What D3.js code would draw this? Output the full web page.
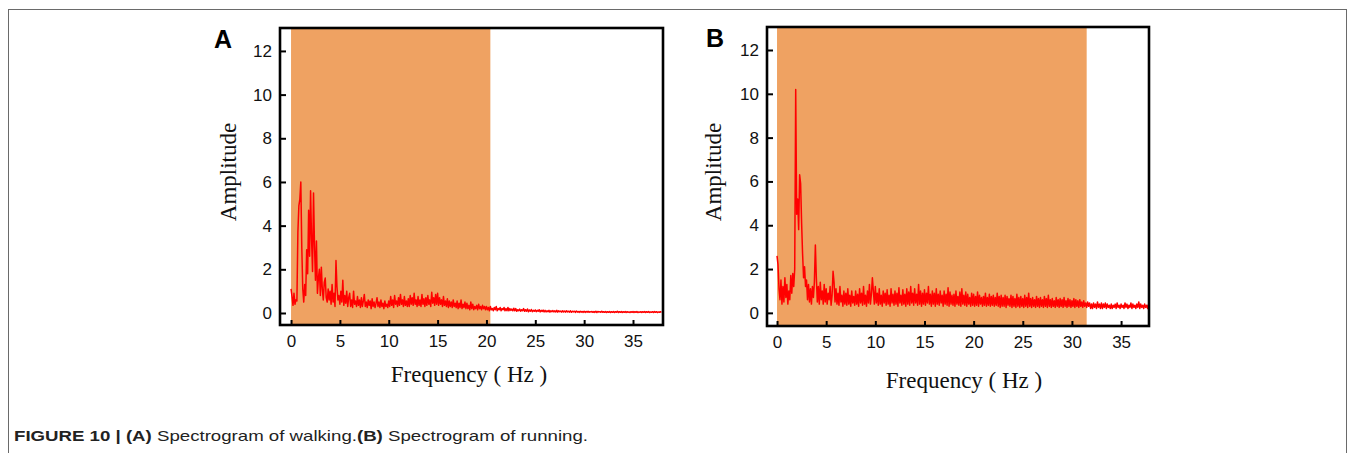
<!DOCTYPE html>
<html>
<head>
<meta charset="utf-8">
<script src="https://cdn.jsdelivr.net/npm/d3@7/dist/d3.min.js"></script>
<style>
  html, body { margin: 0; padding: 0; background: #fff; }
  svg { display: block; }
</style>
</head>
<body>
<svg id="chart" width="1355" height="453"></svg>
<script>
// ---------- data ----------
const freqStep = 0.1; // Hz between samples
const xTicks = [0, 5, 10, 15, 20, 25, 30, 35];
const yTicks = [0, 2, 4, 6, 8, 10, 12];
const panelLetters = ["A", "B"];
const xTitle = "Frequency ( Hz )";
const yTitle = "Amplitude";
const bandA = [0, 20.4];   // highlighted frequency band, walking
const bandB = [0, 31.5];   // highlighted frequency band, running

// Walking spectrum amplitudes (0.0 .. 37.9 Hz, 0.1 Hz steps)
const walking = [
 1.10,0.75,0.35,0.90,0.40,0.60,0.55,3.70,4.90,5.20,
 6.00,3.00,1.10,0.50,1.30,0.80,2.90,1.80,4.70,2.60,
 5.60,3.40,1.90,5.50,3.10,1.50,3.30,0.90,1.60,2.00,
 0.80,2.10,1.10,0.60,1.40,1.60,0.70,0.50,1.10,0.60,
 1.00,0.40,1.30,0.50,0.90,0.30,2.40,1.20,0.60,0.80,
 0.40,1.00,0.50,1.50,0.35,0.80,0.45,1.00,0.30,0.70,
 0.90,0.30,0.60,0.25,1.00,0.40,0.55,0.30,0.75,0.35,
 0.60,0.25,0.70,0.30,0.55,0.85,0.30,0.50,0.25,0.60,
 0.35,0.55,0.20,0.65,0.30,0.50,0.25,0.45,0.70,0.30,
 0.50,0.25,0.60,0.30,0.45,0.20,0.55,0.30,0.40,0.25,
 0.55,0.30,0.75,0.35,0.60,0.25,0.80,0.40,0.55,0.30,
 0.70,0.35,0.85,0.40,0.60,0.30,0.75,0.35,0.55,0.30,
 0.65,0.30,0.80,0.40,0.70,0.35,0.90,0.40,0.60,0.30,
 0.75,0.35,0.60,0.30,0.85,0.40,0.65,0.30,0.70,0.35,
 0.80,0.40,0.60,0.30,0.95,0.45,0.70,0.35,0.85,0.40,
 0.90,0.35,0.70,0.40,0.60,0.30,0.75,0.35,0.55,0.30,
 0.65,0.25,0.55,0.30,0.50,0.25,0.60,0.30,0.45,0.25,
 0.55,0.20,0.45,0.25,0.60,0.20,0.40,0.25,0.50,0.20,
 0.45,0.20,0.35,0.15,0.50,0.20,0.40,0.15,0.30,0.20,
 0.35,0.15,0.40,0.20,0.30,0.15,0.35,0.20,0.30,0.15,
 0.30,0.15,0.25,0.10,0.30,0.15,0.20,0.10,0.25,0.15,
 0.30,0.10,0.20,0.15,0.25,0.10,0.20,0.15,0.25,0.10,
 0.20,0.10,0.25,0.10,0.20,0.12,0.18,0.10,0.22,0.10,
 0.20,0.08,0.15,0.10,0.18,0.08,0.15,0.10,0.20,0.08,
 0.15,0.08,0.18,0.06,0.14,0.08,0.16,0.06,0.12,0.08,
 0.14,0.06,0.12,0.08,0.15,0.05,0.12,0.07,0.13,0.05,
 0.12,0.05,0.10,0.06,0.12,0.04,0.10,0.06,0.11,0.05,
 0.10,0.05,0.12,0.04,0.10,0.06,0.09,0.04,0.10,0.05,
 0.09,0.04,0.10,0.05,0.08,0.04,0.10,0.03,0.08,0.05,
 0.08,0.03,0.09,0.04,0.07,0.03,0.08,0.04,0.07,0.03,
 0.08,0.03,0.07,0.04,0.08,0.03,0.06,0.04,0.07,0.03,
 0.07,0.03,0.08,0.02,0.07,0.04,0.06,0.03,0.08,0.03,
 0.06,0.03,0.07,0.02,0.06,0.03,0.07,0.02,0.06,0.03,
 0.07,0.02,0.06,0.03,0.08,0.02,0.06,0.03,0.07,0.02,
 0.06,0.03,0.07,0.02,0.06,0.03,0.05,0.02,0.06,0.03,
 0.07,0.02,0.06,0.03,0.07,0.02,0.05,0.03,0.06,0.02,
 0.06,0.03,0.07,0.02,0.06,0.03,0.07,0.02,0.05,0.03,
 0.06,0.02,0.07,0.03,0.06,0.02,0.05,0.03,0.06,0.02
];

// Running spectrum amplitudes (0.0 .. 37.9 Hz, 0.1 Hz steps)
const running = [
 2.60,2.20,1.10,0.60,1.50,0.40,1.20,0.50,1.60,0.70,
 1.30,0.40,1.00,0.60,1.70,0.90,1.80,1.20,2.00,10.20,
 4.50,5.20,3.80,6.30,5.90,4.10,2.70,1.60,2.10,1.20,
 1.50,0.60,1.30,0.50,1.10,0.40,1.20,0.70,1.40,3.10,
 1.60,0.50,1.20,0.40,1.40,0.60,1.00,0.40,1.30,0.50,
 1.10,0.40,0.90,0.60,1.20,0.35,0.80,1.90,1.40,0.50,
 1.10,0.40,0.90,0.35,1.20,0.50,0.80,0.30,1.00,0.40,
 0.90,0.35,1.10,0.40,0.80,0.30,1.00,0.45,0.75,0.35,
 1.00,0.40,0.85,0.30,1.10,0.45,0.90,0.35,1.20,0.40,
 0.80,0.30,1.00,0.45,1.30,0.40,0.85,1.60,1.00,0.40,
 1.20,0.45,0.90,0.35,1.10,0.40,0.80,0.30,1.00,0.45,
 0.90,0.35,1.05,0.40,0.80,0.30,1.10,0.45,0.85,0.35,
 1.00,0.40,0.90,0.30,1.15,0.45,0.80,0.35,1.05,0.40,
 0.85,0.30,1.10,0.40,0.95,0.35,1.20,0.45,0.90,0.35,
 1.10,0.45,0.85,0.35,1.30,0.40,1.00,0.30,0.90,0.40,
 1.05,0.35,0.90,0.45,1.20,0.40,0.85,0.30,1.00,0.40,
 0.90,0.30,1.10,0.40,0.85,0.35,1.00,0.45,0.80,0.30,
 1.00,0.40,0.85,0.35,1.15,0.30,0.95,0.40,0.80,0.35,
 0.85,0.30,1.00,0.40,0.75,0.35,0.95,0.30,1.10,0.40,
 0.80,0.35,0.95,0.30,0.85,0.40,0.70,0.30,0.90,0.35,
 0.85,0.30,0.75,0.35,0.95,0.30,0.80,0.40,0.70,0.30,
 0.75,0.35,0.90,0.30,0.70,0.35,0.85,0.30,0.75,0.35,
 0.80,0.30,0.70,0.35,0.90,0.30,0.75,0.25,0.80,0.30,
 0.70,0.30,0.80,0.25,0.75,0.35,0.65,0.30,0.80,0.25,
 0.75,0.30,0.65,0.25,0.85,0.30,0.70,0.25,0.75,0.30,
 0.65,0.25,0.80,0.30,0.70,0.25,0.90,0.30,0.65,0.25,
 0.70,0.30,0.60,0.25,0.75,0.30,0.65,0.25,0.70,0.30,
 0.60,0.25,0.75,0.30,0.65,0.25,0.80,0.30,0.60,0.25,
 0.65,0.30,0.55,0.25,0.70,0.30,0.60,0.25,0.65,0.30,
 0.60,0.25,0.70,0.30,0.55,0.25,0.65,0.30,0.60,0.25,
 0.55,0.30,0.65,0.25,0.60,0.30,0.55,0.25,0.60,0.30,
 0.50,0.25,0.55,0.30,0.45,0.25,0.50,0.30,0.45,0.20,
 0.40,0.20,0.45,0.25,0.40,0.20,0.50,0.25,0.40,0.20,
 0.45,0.20,0.40,0.25,0.45,0.20,0.40,0.25,0.35,0.20,
 0.40,0.20,0.35,0.25,0.40,0.20,0.45,0.25,0.35,0.20,
 0.40,0.25,0.35,0.20,0.45,0.25,0.40,0.20,0.35,0.25,
 0.45,0.20,0.40,0.25,0.35,0.20,0.40,0.25,0.50,0.20,
 0.40,0.25,0.35,0.20,0.40,0.25,0.35,0.20,0.40,0.25
];

// ---------- layout ----------
const svg = d3.select("#chart");
const ORANGE = "#EFA262";
const RED = "#FF0000";

// outer figure frame
svg.append("rect")
  .attr("x", 8.5).attr("y", 9.5)
  .attr("width", 1338).attr("height", 470)
  .attr("fill", "none").attr("stroke", "#6a6a6a").attr("stroke-width", 1);

const panels = [
  { id: "A", values: walking, band: bandA, box: { x0: 280, x1: 663, y0: 28, y1: 325 },
    xDomain: [-1.13, 38.07], yDomain: [-0.55, 13.05],
    letter: { x: 214, y: 48 }, yTitle: { x: 236, y: 172 }, xTitle: { x: 469, y: 382 } },
  { id: "B", values: running, band: bandB, box: { x0: 767, x1: 1149, y0: 27, y1: 326 },
    xDomain: [-1.02, 37.84], yDomain: [-0.6, 13.05],
    letter: { x: 706, y: 47 }, yTitle: { x: 721, y: 172 }, xTitle: { x: 964, y: 388 } }
];

panels.forEach((p, pi) => {
  const b = p.box;
  const x = d3.scaleLinear().domain(p.xDomain).range([b.x0, b.x1]);
  const y = d3.scaleLinear().domain(p.yDomain).range([b.y1, b.y0]);
  const g = svg.append("g");

  const clipId = "clip" + p.id;
  svg.append("clipPath").attr("id", clipId)
    .append("rect").attr("x", b.x0).attr("y", b.y0)
    .attr("width", b.x1 - b.x0).attr("height", b.y1 - b.y0);

  // highlighted band
  g.append("rect")
    .attr("x", x(p.band[0])).attr("y", b.y0)
    .attr("width", x(p.band[1]) - x(p.band[0]))
    .attr("height", b.y1 - b.y0)
    .attr("fill", ORANGE);

  // spectrum line
  const freqs = p.values.map((_, i) => +(i * freqStep).toFixed(2));
  const line = d3.line()
    .x((d, i) => x(freqs[i]))
    .y(d => y(d));
  g.append("path")
    .datum(p.values)
    .attr("clip-path", `url(#${clipId})`)
    .attr("d", line)
    .attr("fill", "none")
    .attr("stroke", RED)
    .attr("stroke-width", 1.5)
    .attr("stroke-linejoin", "round");

  // axes (ticks inward)
  const xAxis = d3.axisBottom(x).tickValues(xTicks).tickSize(-5).tickPadding(10).tickFormat(d3.format("d"));
  const yAxis = d3.axisLeft(y).tickValues(yTicks).tickSize(-6).tickPadding(8).tickFormat(d3.format("d"));

  const gx = g.append("g").attr("transform", `translate(0,${b.y1})`).call(xAxis);
  const gy = g.append("g").attr("transform", `translate(${b.x0},0)`).call(yAxis);
  [gx, gy].forEach(ax => {
    ax.select(".domain").remove();
    ax.selectAll(".tick line").attr("stroke", "#000").attr("stroke-width", 2);
    ax.selectAll(".tick text")
      .attr("fill", "#111")
      .style("font-family", "'Liberation Sans', Arial, sans-serif")
      .style("font-size", "17px");
  });

  // box
  g.append("rect")
    .attr("x", b.x0).attr("y", b.y0)
    .attr("width", b.x1 - b.x0).attr("height", b.y1 - b.y0)
    .attr("fill", "none").attr("stroke", "#000").attr("stroke-width", 2.6);

  // panel letter
  g.append("text")
    .attr("x", p.letter.x).attr("y", p.letter.y)
    .text(panelLetters[pi])
    .style("font-family", "'Liberation Sans', Arial, sans-serif")
    .style("font-weight", "bold")
    .style("font-size", "25px")
    .attr("fill", "#000");

  // axis titles
  g.append("text")
    .attr("transform", `translate(${p.yTitle.x},${p.yTitle.y}) rotate(-90)`)
    .attr("text-anchor", "middle")
    .text(yTitle)
    .style("font-family", "'Liberation Serif', 'Times New Roman', serif")
    .style("font-size", "23px")
    .attr("fill", "#111");

  g.append("text")
    .attr("x", p.xTitle.x).attr("y", p.xTitle.y)
    .attr("text-anchor", "middle")
    .text(xTitle)
    .style("font-family", "'Liberation Serif', 'Times New Roman', serif")
    .style("font-size", "23px")
    .attr("fill", "#111");
});

// caption
const cap = svg.append("text")
  .attr("x", 14).attr("y", 441)
  .attr("textLength", 574)
  .attr("lengthAdjust", "spacingAndGlyphs")
  .style("font-family", "'Liberation Sans Narrow', 'Arial Narrow', 'Liberation Sans', sans-serif")
  .style("font-size", "15px")
  .attr("fill", "#222");
cap.append("tspan").style("font-weight", "bold").text("FIGURE 10 | (A)");
cap.append("tspan").text(" Spectrogram of walking.");
cap.append("tspan").style("font-weight", "bold").text("(B)");
cap.append("tspan").text(" Spectrogram of running.");
</script>
</body>
</html>
